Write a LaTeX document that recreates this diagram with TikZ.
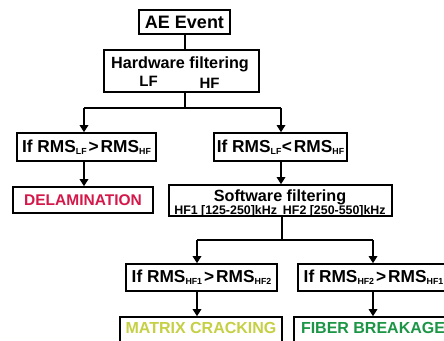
\documentclass[tikz,border=0pt]{standalone}
\usepackage{fontspec}
\setmainfont{Liberation Sans}
\usetikzlibrary{arrows.meta}
\definecolor{delamred}{RGB}{212,24,74}
\definecolor{matrixgreen}{RGB}{198,208,68}
\definecolor{fibergreen}{RGB}{28,150,70}
\newcommand\lowsub[1]{\raisebox{-2.4pt}{\fontsize{8.8}{8.8}\selectfont #1}}
\newcommand\fsz[1]{\fontsize{#1}{#1}\selectfont}
\begin{document}
\begin{tikzpicture}[x=1pt,y=-1pt,
  box/.style={draw, line width=1.6pt, inner sep=0pt, font=\bfseries},
  cond/.style={box, minimum height=28pt, font=\bfseries\fsz{17.3}},
  txt/.style={inner sep=0pt, anchor=base, font=\bfseries},
  link/.style={line width=1.4pt},
  arr/.style={line width=1.4pt, -{Triangle[length=7pt,width=8.5pt]}}]
\clip (0,0) rectangle (444,340);
\fill[white] (0,0) rectangle (444,340);

% top of the tree
\node[box, minimum width=91pt, minimum height=24pt, font=\bfseries\fsz{18}] (ae) at (184.5,22) {AE Event};
\node[box, minimum width=155pt, minimum height=42pt] (hw) at (181.5,71) {};
\node[txt, font=\bfseries\fsz{16.2}] (hwt) at (180,68) {Hardware filtering};
\node[txt, font=\bfseries\fsz{15}] (lf) at (148.5,86) {LF};
\node[txt, font=\bfseries\fsz{15}] (hf) at (209.5,88) {HF};

% first decision level
\node[cond, minimum width=139pt] (c1) at (86.5,147)
  {If RMS\lowsub{LF}\hspace{2pt}>\hspace{2pt}RMS\lowsub{HF}};
\node[cond, minimum width=133pt] (c2) at (280.5,147)
  {If RMS\lowsub{LF}\hspace{0.5pt}<\hspace{2pt}RMS\lowsub{HF}};
\node[box, minimum width=140pt, minimum height=26pt, font=\bfseries\fsz{15.5}, text=delamred] (del) at (83,200) {DELAMINATION};

% software filtering
\node[box, minimum width=223pt, minimum height=31pt] (sw) at (280.5,200.5) {};
\node[txt, font=\bfseries\fsz{16.2}] (swt) at (280,201) {Software filtering};
\node[txt, font=\bfseries\fsz{12.4}] (swb) at (280,214.5) {HF1 [125-250]kHz\hspace{6pt}HF2 [250-550]kHz};

% second decision level
\node[cond, minimum width=151pt, minimum height=27pt] (c3) at (201.5,277.5)
  {If RMS\lowsub{HF1}\hspace{2pt}>\hspace{2pt}RMS\lowsub{HF2}};
\node[cond, minimum width=151pt, minimum height=27pt] (c4) at (373.5,277.5)
  {If RMS\lowsub{HF2}\hspace{2pt}>\hspace{2pt}RMS\lowsub{HF1}};

% outcomes
\node[box, minimum width=162pt, minimum height=33pt] (mc) at (201,333.5) {};
\node[txt, font=\bfseries\fsz{16}, text=matrixgreen] (mct) at (201,333) {MATRIX CRACKING};
\node[box, minimum width=162pt, minimum height=33pt] (fb) at (375,333.5) {};
\node[txt, font=\bfseries\fsz{16}, text=fibergreen] (fbt) at (373,333) {FIBER BREAKAGE};

% junction points of the branches
\coordinate (j1) at (185,108);
\coordinate (j1l) at (84,108);
\coordinate (j1r) at (281,108);
\coordinate (j2) at (282,240);
\coordinate (j2l) at (197,240);
\coordinate (j2r) at (373,240);

% connectors
\draw[link] (ae.south -| j1) -- (hw.north -| j1);
\draw[link] (hw.south -| j1) -- (j1);
\draw[link] (j1l) -- (j1r);
\draw[arr] (j1l) -- (c1.north -| j1l);
\draw[arr] (j1r) -- (c2.north -| j1r);
\draw[arr] (c1.south -| j1l) -- (del.north -| j1l);
\draw[arr] (c2.south -| j1r) -- (sw.north -| j1r);
\draw[link] (sw.south -| j2) -- (j2);
\draw[link] (j2l) -- (j2r);
\draw[arr] (j2l) -- (c3.north -| j2l);
\draw[arr] (j2r) -- (c4.north -| j2r);
\draw[arr] (c3.south -| j2l) -- (mc.north -| j2l);
\draw[arr] (c4.south -| j2r) -- (fb.north -| j2r);
\end{tikzpicture}
\end{document}
